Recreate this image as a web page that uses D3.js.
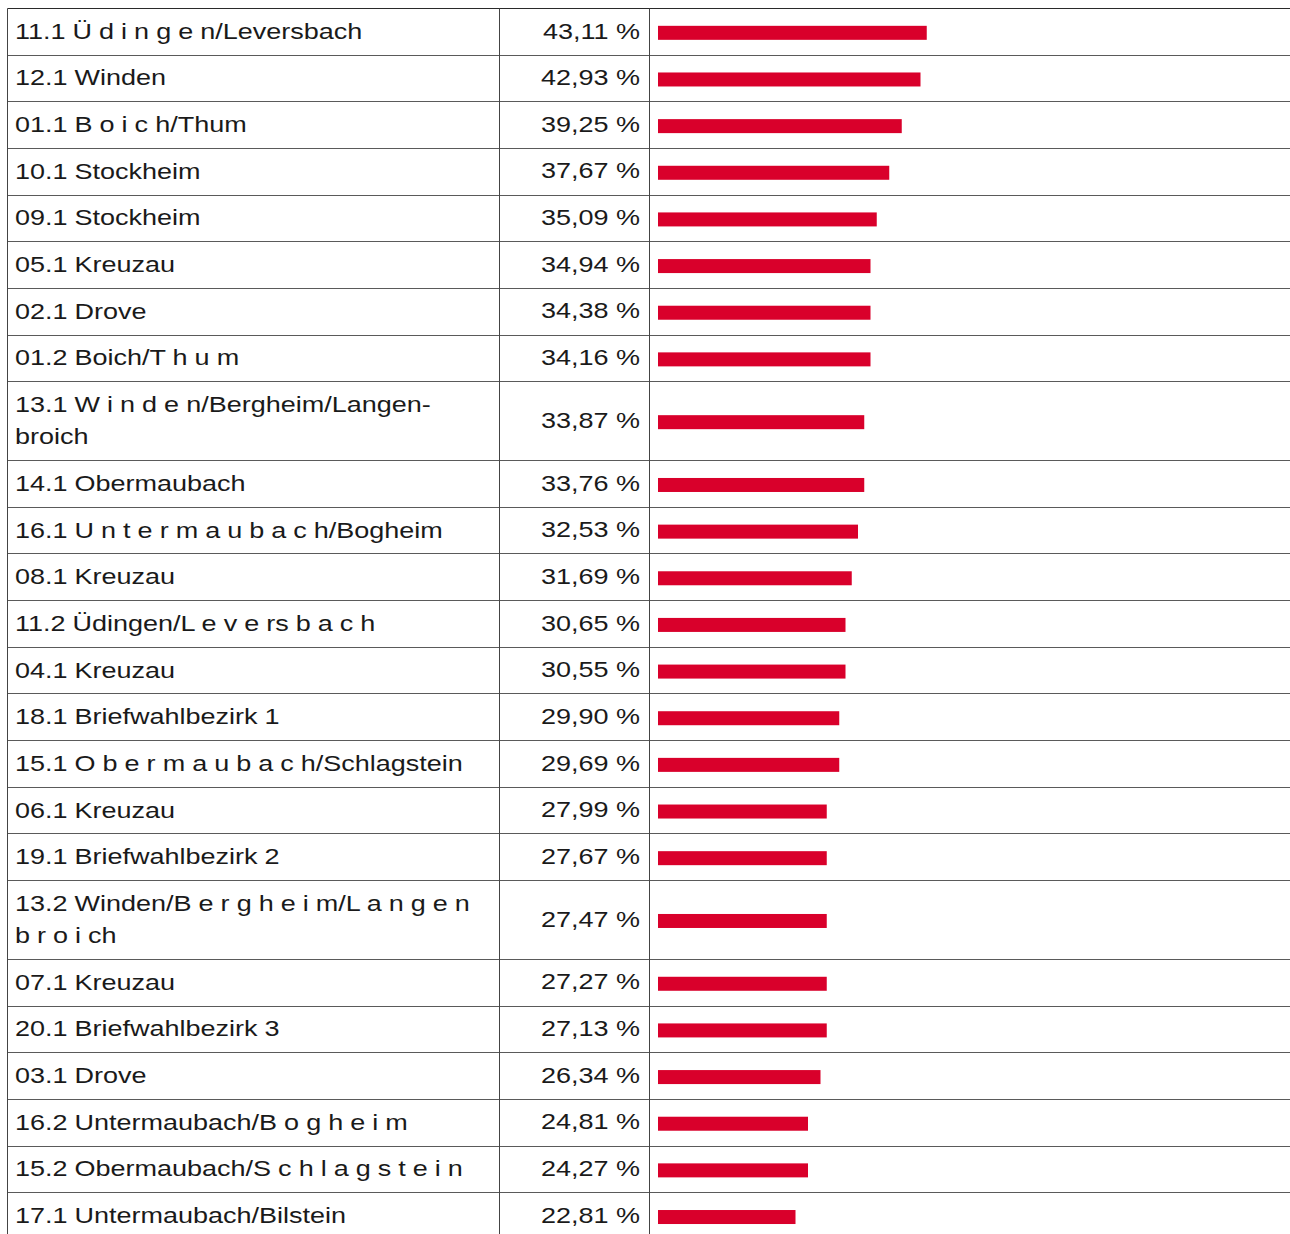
<!DOCTYPE html>
<html>
<head>
<meta charset="utf-8">
<script src="https://cdn.jsdelivr.net/npm/d3@7"></script>
<style>
  html, body { margin: 0; padding: 0; background: #fff; overflow: hidden; }
  svg { display: block; }
  text { font-family: "Liberation Sans", Arial, sans-serif; fill: #1a1a1a; }
</style>
</head>
<body>
<svg id="chart" width="1290" height="1234"></svg>
<script>
// ---- data ----
const labels = [
  "11.1 Ü d i n g e n/Leversbach",
  "12.1 Winden",
  "01.1 B o i c h/Thum",
  "10.1 Stockheim",
  "09.1 Stockheim",
  "05.1 Kreuzau",
  "02.1 Drove",
  "01.2 Boich/T h u m",
  "13.1 W i n d e n/Bergheim/Langen-\nbroich",
  "14.1 Obermaubach",
  "16.1 U n t e r m a u b a c h/Bogheim",
  "08.1 Kreuzau",
  "11.2 Üdingen/L e v e rs b a c h",
  "04.1 Kreuzau",
  "18.1 Briefwahlbezirk 1",
  "15.1 O b e r m a u b a c h/Schlagstein",
  "06.1 Kreuzau",
  "19.1 Briefwahlbezirk 2",
  "13.2 Winden/B e r g h e i m/L a n g e n\nb r o i ch",
  "07.1 Kreuzau",
  "20.1 Briefwahlbezirk 3",
  "03.1 Drove",
  "16.2 Untermaubach/B o g h e i m",
  "15.2 Obermaubach/S c h l a g s t e i n",
  "17.1 Untermaubach/Bilstein"
];
const values = [
  43.11, 42.93, 39.25, 37.67, 35.09, 34.94, 34.38, 34.16, 33.87, 33.76,
  32.53, 31.69, 30.65, 30.55, 29.90, 29.69, 27.99, 27.67, 27.47, 27.27,
  27.13, 26.34, 24.81, 24.27, 22.81
];
const valueDomain = [0, 100];

// ---- layout ----
const svg = d3.select("#chart");
const top0 = 8;
const left0 = 7.5;
const col1 = 499.5, col2 = 649.5, right0 = 1300;
const rowH = 46.65, lineH = 32.3;
const barX0 = 658, barMax = 625, barH = 14;
const stretch = 1.2;
const fmt = v => d3.format(".2f")(v).replace(".", ",") + " %";

const x = d3.scaleLinear().domain(valueDomain).range([0, barMax]);

const rows = [];
let y = top0;
labels.forEach((lab, i) => {
  const lines = lab.split("\n");
  const h = rowH + lineH * (lines.length - 1);
  rows.push({ lines, value: values[i], y, h });
  y += h;
});

const g = svg.append("g");

// bars
g.selectAll("rect.bar").data(rows).join("rect")
  .attr("class", "bar")
  .attr("x", barX0)
  .attr("y", d => d.y + d.h / 2 + 1.5 - barH / 2)
  .attr("width", d => x(Math.floor(d.value)))
  .attr("height", barH)
  .attr("fill", "#d9002b");

// labels
const lab = g.selectAll("text.lab").data(rows).join("text")
  .attr("class", "lab")
  .attr("transform", d => `translate(15,${d.y + 30.8}) scale(${stretch},1)`)
  .style("font-size", "22.5px")
  .style("word-spacing", "-0.4px");
lab.selectAll("tspan").data(d => d.lines).join("tspan")
  .attr("x", 0)
  .attr("y", (d, i) => i * lineH)
  .text(d => d);

// values
g.selectAll("text.val").data(rows).join("text")
  .attr("class", "val")
  .attr("text-anchor", "end")
  .attr("transform", d => `translate(640,${d.y + d.h / 2 + 7.2}) scale(${stretch},1)`)
  .style("font-size", "22.5px")
  .text(d => fmt(d.value));

// grid lines
const hy = rows.map(r => r.y).concat([y]);
g.selectAll("line.h").data(hy).join("line")
  .attr("class", "h")
  .attr("x1", left0).attr("x2", right0)
  .attr("y1", d => Math.round(d) + 0.5).attr("y2", d => Math.round(d) + 0.5)
  .attr("stroke", (d, i) => i === 0 ? "#2a2a2a" : "#5a5a5a")
  .attr("stroke-width", 1);

g.selectAll("line.v").data([left0, col1, col2]).join("line")
  .attr("class", "v")
  .attr("x1", d => d).attr("x2", d => d)
  .attr("y1", top0 + 0.5).attr("y2", 1300)
  .attr("stroke", "#444")
  .attr("stroke-width", 1);
</script>
</body>
</html>
